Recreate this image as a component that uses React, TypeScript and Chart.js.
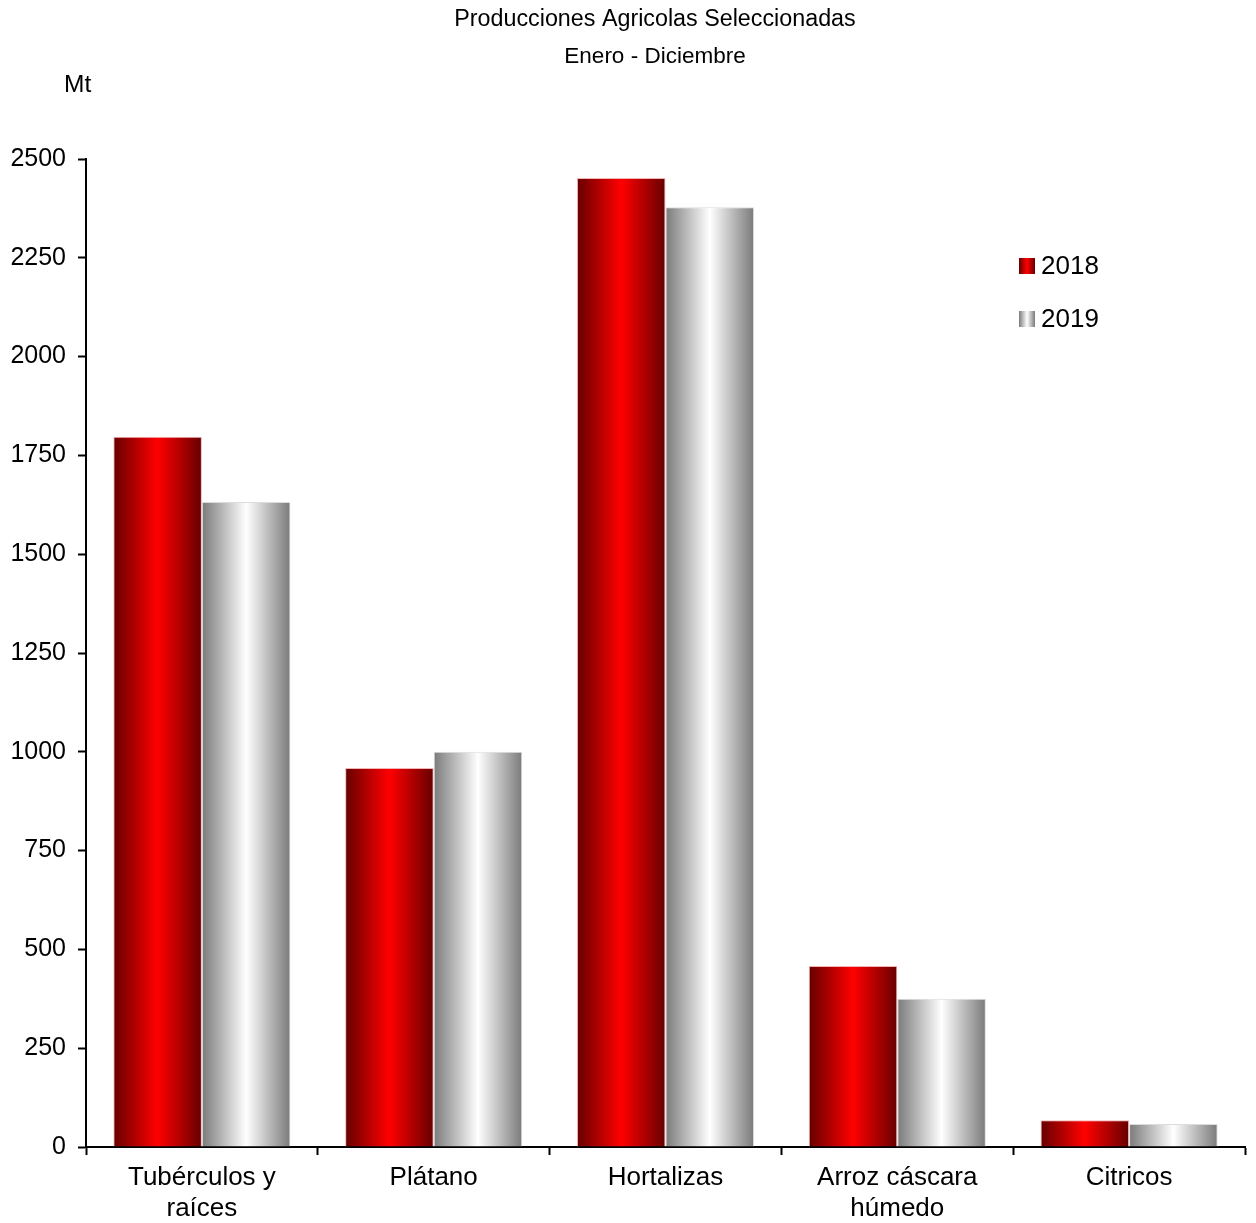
import React, { useEffect, useRef } from 'react';
import { Chart, registerables } from 'chart.js';

Chart.register(...registerables);

const categories: (string | string[])[] = [
  ['Tubérculos y', 'raíces'],
  'Plátano',
  'Hortalizas',
  ['Arroz cáscara', 'húmedo'],
  'Citricos',
];
const seriesLabels = ['2018', '2019'];
const values2018 = [1797, 959, 2452, 458, 68];
const values2019 = [1632, 1000, 2378, 375, 58];
const yTickValues = [0, 250, 500, 750, 1000, 1250, 1500, 1750, 2000, 2250, 2500];
const titleLines = ['Producciones Agricolas Seleccionadas', 'Enero - Diciembre'];
const yUnit = 'Mt';

const FONT = '"Liberation Sans", Arial, Helvetica, sans-serif';
const palettes = [
  ['#660000', '#ff0000', '#660000'],
  ['#7a7a7a', '#ffffff', '#7a7a7a'],
];
const borderColors = ['#f2b4b4', '#dcdcdc'];

function makeGrad(ctx: CanvasRenderingContext2D, x0: number, x1: number, stops: string[]) {
  const g = ctx.createLinearGradient(x0, 0, x1, 0);
  g.addColorStop(0, stops[0]);
  g.addColorStop(0.5, stops[1]);
  g.addColorStop(1, stops[2]);
  return g;
}

const gradientPlugin = {
  id: 'barGradient',
  beforeDatasetsDraw(chart: any) {
    chart.data.datasets.forEach((_ds: any, di: number) => {
      const meta = chart.getDatasetMeta(di);
      meta.data.forEach((el: any) => {
        const { x, width } = el.getProps(['x', 'width'], true);
        const g = makeGrad(chart.ctx, x - width / 2, x + width / 2, palettes[di]);
        el.options = Object.assign({}, el.options, { backgroundColor: g });
      });
    });
  },
};

const textPlugin = {
  id: 'texts',
  afterDraw(chart: any) {
    const c: CanvasRenderingContext2D = chart.ctx;
    c.save();
    c.fillStyle = '#000';
    c.textAlign = 'center';
    c.textBaseline = 'middle';
    c.font = `23.3px ${FONT}`;
    c.fillText(titleLines[0], 655, 20);
    c.font = `22.5px ${FONT}`;
    c.fillText(titleLines[1], 655, 57);
    c.textAlign = 'left';
    c.font = `24.5px ${FONT}`;
    c.fillText(yUnit, 64, 85);
    chart.data.datasets.forEach((ds: any, di: number) => {
      const y = 266 + di * 53;
      const x = 1019;
      c.fillStyle = makeGrad(c, x, x + 16, palettes[di]);
      c.fillRect(x, y - 8, 16, 16);
      c.fillStyle = '#000';
      c.font = `26px ${FONT}`;
      c.fillText(ds.label, 1041, y + 1);
    });
    c.restore();
  },
};

export default function App() {
  const ref = useRef<HTMLCanvasElement | null>(null);
  useEffect(() => {
    if (!ref.current) return;
    const chart = new Chart(ref.current, {
      type: 'bar',
      data: {
        labels: categories,
        datasets: [
          {
            label: seriesLabels[0],
            data: values2018,
            backgroundColor: palettes[0][1],
            borderColor: borderColors[0],
            borderWidth: { top: 1, left: 1, right: 1, bottom: 0 },
            borderSkipped: 'bottom',
            categoryPercentage: 0.764,
            barPercentage: 1,
          },
          {
            label: seriesLabels[1],
            data: values2019,
            backgroundColor: palettes[1][1],
            borderColor: borderColors[1],
            borderWidth: { top: 1, left: 1, right: 1, bottom: 0 },
            borderSkipped: 'bottom',
            categoryPercentage: 0.764,
            barPercentage: 1,
          },
        ],
      },
      options: {
        animation: false,
        responsive: true,
        maintainAspectRatio: false,
        layout: { padding: { top: 159, left: 0, right: 11, bottom: 0 } },
        plugins: {
          legend: { display: false },
          title: { display: false },
          tooltip: { enabled: false },
        },
        scales: {
          x: {
            type: 'category',
            offset: true,
            grid: {
              offset: true,
              drawOnChartArea: false,
              drawTicks: true,
              tickLength: 8,
              tickWidth: 2,
              tickColor: '#000',
            },
            border: { display: true, color: '#000', width: 2 },
            ticks: {
              color: '#000',
              font: { family: FONT, size: 26, lineHeight: 1.2 },
              padding: 7,
              maxRotation: 0,
              autoSkip: false,
            },
            afterFit(scale: any) {
              scale.height = 76;
            },
          },
          y: {
            min: 0,
            max: 2500,
            afterBuildTicks(scale: any) {
              scale.ticks = yTickValues.map((v) => ({ value: v }));
            },
            grid: {
              drawOnChartArea: false,
              drawTicks: true,
              tickLength: 8,
              tickWidth: 2,
              tickColor: '#000',
            },
            border: { display: true, color: '#000', width: 2 },
            ticks: {
              color: '#000',
              font: { family: FONT, size: 25 },
              padding: 12,
              callback: (v: any) => String(v),
            },
            afterFit(scale: any) {
              scale.width = 86;
            },
          },
        },
      },
      plugins: [gradientPlugin, textPlugin],
    });
    return () => chart.destroy();
  }, []);
  return (
    <div style={{ position: 'fixed', left: 0, top: 0, width: 1256, height: 1223, background: '#fff' }}>
      <canvas ref={ref} />
    </div>
  );
}
